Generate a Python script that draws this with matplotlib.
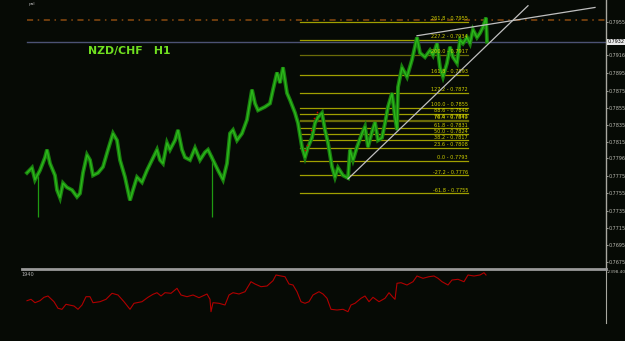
import matplotlib
matplotlib.use("Agg")
import matplotlib.pyplot as plt
from matplotlib.lines import Line2D

# ---------------- data ----------------
bar_x = [27, 32, 35, 40, 45, 47, 50, 55, 57, 60, 63, 67, 72, 77, 80, 83, 87, 90, 93, 98,
         103, 108, 113, 117, 120, 125, 130, 133, 137, 142, 147, 152, 157, 160, 163, 167, 170, 175, 178, 182,
         185, 190, 195, 200, 205, 208, 213, 218, 223, 227, 230, 233, 237, 242, 247, 252, 255, 258, 265, 270,
         273, 277, 280, 283, 287, 290, 295, 298, 302, 305, 308, 312, 315, 318, 322, 325, 328, 332, 335, 338,
         343, 348, 350, 353, 357, 362, 365, 368, 372, 375, 378, 382, 385, 388, 392, 395, 397, 398, 402, 407,
         412, 417, 420, 425, 430, 433, 437, 440, 443, 447, 450, 453, 457, 460, 463, 467, 470, 473, 477, 480,
         483, 486, 487]
close = [0.7779, 0.7785, 0.7771, 0.7782, 0.7797, 0.7806, 0.7790, 0.7776, 0.7759, 0.7750, 0.7767, 0.7762, 0.7759, 0.7751, 0.7755, 0.7779, 0.7800, 0.7794, 0.7776, 0.7779,
         0.7786, 0.7806, 0.7825, 0.7817, 0.7794, 0.7774, 0.7747, 0.7759, 0.7774, 0.7768, 0.7782, 0.7794, 0.7806, 0.7794, 0.7790, 0.7814, 0.7806, 0.7817, 0.7829, 0.7806,
         0.7797, 0.7794, 0.7808, 0.7794, 0.7803, 0.7806, 0.7794, 0.7782, 0.7771, 0.7790, 0.7825, 0.7829, 0.7817, 0.7825, 0.7841, 0.7876, 0.7860, 0.7852, 0.7856, 0.7860,
         0.7876, 0.7896, 0.7884, 0.7902, 0.7872, 0.7864, 0.7849, 0.7837, 0.7809, 0.7797, 0.7809, 0.7820, 0.7837, 0.7844, 0.7849, 0.7829, 0.7814, 0.7786, 0.7774, 0.7785,
         0.7776, 0.7773, 0.7806, 0.7794, 0.7809, 0.7825, 0.7833, 0.7809, 0.7827, 0.7838, 0.7817, 0.7820, 0.7837, 0.7856, 0.7872, 0.7844, 0.7829, 0.7879, 0.7902, 0.7891,
         0.7911, 0.7937, 0.7919, 0.7914, 0.7922, 0.7916, 0.7930, 0.7902, 0.7891, 0.7907, 0.7926, 0.7914, 0.7907, 0.7934, 0.7930, 0.7937, 0.7930, 0.7946, 0.7937, 0.7942,
         0.7949, 0.7960, 0.7932]
spike_x = [38, 212]
spike_high = [0.7775, 0.7800]
spike_low = [0.7727, 0.7727]

sar_x = [305, 307, 311, 314, 317]
sar_y = [0.7806, 0.7811, 0.7829, 0.7843, 0.7850]

fib_levels = [261.8, 227.2, 200.0, 161.8, 127.2, 100.0, 88.6, 78.6, 76.4, 61.8, 50.0, 38.2, 23.6, 0.0, -27.2, -61.8]
fib_prices = [0.7955, 0.7934, 0.7917, 0.7893, 0.7872, 0.7855, 0.7848, 0.7841, 0.7840, 0.7831, 0.7824, 0.7817, 0.7808, 0.7793, 0.7776, 0.7755]
fib_start, fib_end = 300, 468

trend1_x = [348, 528]
trend1_y = [0.7772, 0.7974]
trend2_x = [417, 595]
trend2_y = [0.7939, 0.7972]

current_price = 0.7932
dotted_level = 0.7957

ytick_vals = [0.7955, 0.7916, 0.7895, 0.7875, 0.7855, 0.7835, 0.7815, 0.7796,
              0.7775, 0.7755, 0.7735, 0.7715, 0.7695, 0.7675]
ytick_labels = ["0.7955", "0.7916", "0.7895", "0.7875", "0.7855", "0.7835", "0.7815", "0.7796",
                "0.7775", "0.7755", "0.7735", "0.7715", "0.7695", "0.7675"]

ind_x = [27, 31, 35, 40, 44, 48, 54, 58, 62, 66, 74, 78, 82, 86, 90, 93, 100, 106, 112, 118,
         124, 130, 134, 142, 148, 153, 157, 161, 165, 171, 177, 181, 187, 193, 199, 207, 210, 211, 213, 219,
         225, 229, 233, 239, 245, 251, 255, 261, 267, 273, 276, 281, 285, 289, 293, 297, 301, 305, 309, 313,
         319, 323, 327, 331, 337, 343, 348, 351, 355, 361, 365, 369, 373, 379, 385, 389, 393, 395, 397, 401,
         407, 413, 417, 423, 429, 434, 438, 442, 448, 452, 458, 464, 468, 474, 480, 484, 486]
ind_val = [-2685, -2671, -2705, -2685, -2651, -2638, -2695, -2761, -2771, -2721,
           -2738, -2771, -2728, -2645, -2645, -2705, -2695, -2671, -2611, -2628,
           -2695, -2771, -2711, -2695, -2651, -2621, -2605, -2638, -2605, -2611,
           -2561, -2628, -2645, -2628, -2655, -2618, -2671, -2795, -2705, -2711,
           -2728, -2628, -2605, -2618, -2595, -2495, -2518, -2545, -2538, -2485,
           -2428, -2438, -2445, -2518, -2528, -2595, -2695, -2711, -2695, -2628,
           -2595, -2618, -2661, -2771, -2778, -2771, -2795, -2728, -2711, -2661,
           -2638, -2695, -2651, -2695, -2661, -2605, -2651, -2671, -2511, -2505,
           -2528, -2495, -2438, -2461, -2445, -2438, -2461, -2495, -2528, -2478,
           -2471, -2495, -2428, -2438, -2428, -2405, -2428]

# ---------------- figure ----------------
W, H = 625, 341
BG = "#060a05"
fig = plt.figure(figsize=(W / 100, H / 100), dpi=100, facecolor=BG)

def fx(px):
    return px / W

def fy(py):
    return 1 - py / H

ax = fig.add_axes([0, fy(268), fx(606), 268 / H], facecolor=BG)
ax.set_xlim(0, 606)
ax.set_ylim(0.76680, 0.79807)

for s in ["top", "left", "bottom"]:
    ax.spines[s].set_visible(False)
ax.spines["right"].set_color("#a8a8a0")
ax.spines["right"].set_linewidth(1)
ax.set_xticks([])
ax.yaxis.tick_right()
ax.set_yticks(ytick_vals)
ax.set_yticklabels(ytick_labels)
ax.tick_params(axis="y", colors="#b8b8b0", labelsize=3.5, length=1.5, width=0.6, pad=0.5)

# horizontal reference lines
ax.plot([27, 606], [dotted_level, dotted_level], color="#8a4a10", lw=1.1,
        linestyle=(0, (4, 3, 1, 3)), zorder=1)
ax.plot([27, 606], [current_price, current_price], color="#4c5274", lw=1, zorder=1)

# fib lines
dark = {200.0, 76.4, 78.6}
for lvl, p in zip(fib_levels, fib_prices):
    col = "#6a6a08" if lvl in dark else "#a0a000"
    ax.plot([fib_start, fib_end], [p, p], color=col, lw=0.9, zorder=2)
    ax.text(fib_end, p + 0.00008, f"{lvl:.1f} - {p:.4f}", color="#d0d000", fontsize=3.6,
            ha="right", va="bottom", zorder=5)

# price
ax.vlines(spike_x, spike_low, spike_high, color="#1f9a12", lw=0.9, zorder=3)
ax.plot(bar_x, close, color="#1a800f", lw=2.8, zorder=3, solid_joinstyle="miter")
ax.plot(bar_x, close, color="#2bb81a", lw=1.0, zorder=4)
ax.scatter(sar_x, sar_y, s=1.5, color="#d00000", zorder=5, linewidths=0)

# trend lines
ax.plot(trend1_x, trend1_y, color="#c0c0c0", lw=0.9, zorder=6)
ax.plot(trend2_x, trend2_y, color="#c0c0c0", lw=0.9, zorder=6)

# title
ax.text(88, 0.7921, "NZD/CHF   H1", color="#70e020", fontsize=7.8, fontweight="bold",
        ha="left", va="center", zorder=7)
ax.text(29, 0.79755, "pal", color="#b0b0b0", fontsize=3.2, ha="left", va="center")

# current price box
ax.text(607.5, current_price, "0.7932", color="#000000", fontsize=3.5, ha="left", va="center",
        bbox=dict(boxstyle="square,pad=0.15", fc="#e8e8e8", ec="none"), clip_on=False, zorder=8)

# separator
fig.add_artist(Line2D([fx(22), fx(606)], [fy(269), fy(269)], color="#9a9a9a", lw=2))

# indicator pane
ax2 = fig.add_axes([0, fy(323), fx(606), (323 - 270) / H], facecolor=BG)
ax2.set_xlim(0, 606)
ax2.set_ylim(-2908, -2378)
for s in ["top", "left", "bottom"]:
    ax2.spines[s].set_visible(False)
ax2.spines["right"].set_color("#a8a8a0")
ax2.set_xticks([])
ax2.set_yticks([])
ax2.plot(ind_x, ind_val, color="#b00000", lw=0.8)
ax2.text(22, -2418, "1940", color="#b0b0b0", fontsize=3.6, ha="left", va="center")
fig.text(fx(606.5), fy(272), "-2398.40", color="#b8b8b0", fontsize=3.1, ha="left", va="center")

fig.savefig("out.png", dpi=100, facecolor=BG)
